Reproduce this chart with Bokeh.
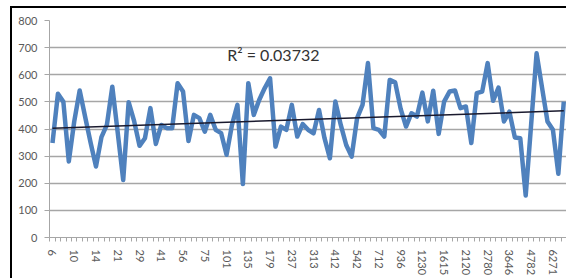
from bokeh.plotting import figure
from bokeh.models import FixedTicker, Label, ColumnDataSource, Div
from bokeh.layouts import column, row
from bokeh.embed import file_html
from bokeh.resources import INLINE

# ---- data ----
values = [348, 530, 500, 280, 428, 542, 445, 350, 262, 370,
          415, 556, 385, 212, 499, 430, 338, 366, 477, 345,
          415, 403, 403, 569, 538, 356, 452, 440, 390, 452,
          397, 385, 305, 415, 489, 197, 569, 452, 507, 550,
          587, 335, 409, 397, 489, 372, 418, 397, 384, 470,
          367, 292, 501, 415, 341, 298, 440, 489, 643, 403,
          397, 372, 581, 572, 475, 409, 458, 446, 534, 428,
          541, 382, 501, 538, 542, 477, 483, 348, 532, 538,
          643, 504, 553, 428, 464, 369, 366, 155, 417, 679,
          553, 428, 397, 235, 501]
tick_labels = ["6", "10", "14", "21", "29", "41", "56", "75", "101", "135",
               "179", "237", "313", "412", "542", "712", "936", "1230", "1615",
               "2120", "2780", "3646", "4782", "6271"]
label_every = 4
trend_start = 403
trend_end = 467
r2_text = "R\u00b2 = 0.03732"
y_ticks = [0, 100, 200, 300, 400, 500, 600, 700, 800]

n = len(values)
idx = list(range(n))
src = ColumnDataSource(dict(x=idx, y=values))

p = figure(width=554, height=270, output_backend="svg", toolbar_location=None,
           x_range=(-0.55, 94.5), y_range=(0, 800),
           min_border_left=37, min_border_right=0, min_border_top=12,
           min_border_bottom=41)
p.outline_line_color = None
p.background_fill_color = "white"
p.border_fill_color = "white"

# grid
p.xgrid.grid_line_color = None
p.ygrid.grid_line_color = "#a6a6a6"
p.ygrid.grid_line_width = 1.3
p.ygrid.ticker = FixedTicker(ticks=y_ticks)

# series line
p.line("x", "y", source=src, line_color="#4f81bd", line_width=4.5,
       line_join="round")

# trendline
p.line([0, n - 1], [trend_start, trend_end], line_color="#1a1a2e", line_width=1.5)

# R^2 label
p.add_layout(Label(x=40.6, y=675, text=r2_text, text_align="center",
                   text_baseline="middle", text_font="Lato",
                   text_font_size="16px", text_color="#333333"))

# y axis
p.yaxis.ticker = FixedTicker(ticks=y_ticks)
p.yaxis.axis_line_color = "#a6a6a6"
p.yaxis.major_tick_line_color = "#a6a6a6"
p.yaxis.major_tick_out = 5
p.yaxis.major_tick_in = 0
p.yaxis.minor_tick_line_color = None
p.yaxis.major_label_standoff = 7
p.yaxis.major_label_text_font = "Lato"
p.yaxis.major_label_text_font_size = "11px"
p.yaxis.major_label_text_color = "#595959"

# x axis
tick_pos = list(range(0, n, label_every))[:len(tick_labels)]
p.xaxis.ticker = FixedTicker(ticks=tick_pos,
                             minor_ticks=[i - 0.5 for i in range(n + 1)])
p.xaxis.major_label_overrides = {t: lab for t, lab in zip(tick_pos, tick_labels)}
p.xaxis.major_label_orientation = "vertical"
p.xaxis.axis_line_color = "#a6a6a6"
p.xaxis.major_tick_out = 0
p.xaxis.major_tick_in = 0
p.xaxis.minor_tick_out = 4
p.xaxis.minor_tick_in = 0
p.xaxis.minor_tick_line_color = "#a6a6a6"
p.xaxis.major_label_standoff = 8
p.xaxis.major_label_text_font = "Lato"
p.xaxis.major_label_text_font_size = "11px"
p.xaxis.major_label_text_color = "#595959"

# outer chart-area frame: black top and left edges
top_gap = Div(width=566, height=6, margin=0)
left_gap = Div(width=10, height=272, margin=0)
left_edge = Div(width=2, height=272, margin=0,
                styles={"background-color": "#000000"})
top_edge = Div(width=554, height=2, margin=0,
               styles={"background-color": "#000000"})
layout = column(top_gap,
                row(left_gap, left_edge, column(top_edge, p, spacing=0), spacing=0),
                spacing=0)

open("out.html", "w").write(file_html(layout, INLINE))
